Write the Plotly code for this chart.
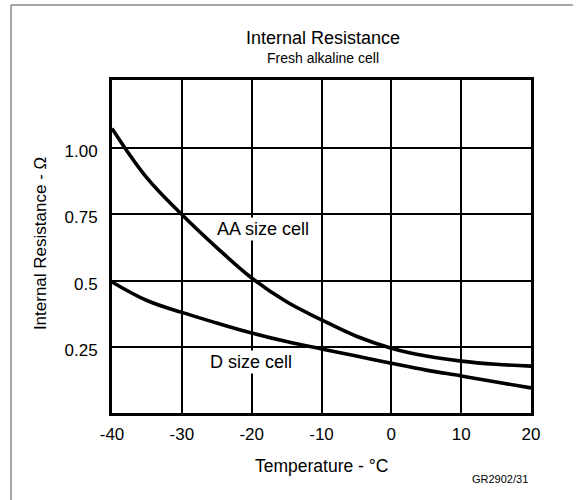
import plotly.graph_objects as go

temperature = [-40, -35, -30, -25, -20, -15, -10, -5, 0, 5, 10, 15, 20]
aa_resistance = [1.075, 0.888, 0.75, 0.625, 0.51, 0.42, 0.352, 0.29, 0.245, 0.215, 0.196, 0.184, 0.177]
d_resistance = [0.495, 0.425, 0.38, 0.34, 0.302, 0.27, 0.242, 0.215, 0.188, 0.162, 0.14, 0.117, 0.095]

x_ticks = [-40, -30, -20, -10, 0, 10, 20]
y_ticks = [0.25, 0.5, 0.75, 1.0]
y_tick_labels = ["0.25", "0.5", "0.75", "1.00"]

FONT = "Liberation Sans, Arial, Helvetica, sans-serif"

fig = go.Figure()
for name, vals in [("AA size cell", aa_resistance), ("D size cell", d_resistance)]:
    fig.add_trace(go.Scatter(
        x=temperature, y=vals, mode="lines", name=name,
        line=dict(color="black", width=3.6, shape="spline", smoothing=1.1),
        showlegend=False, hoverinfo="x+y",
    ))

fig.update_layout(
    width=577, height=500,
    margin=dict(l=112, r=46, t=80, b=87),
    paper_bgcolor="white", plot_bgcolor="white",
    font=dict(family=FONT, color="black", size=17),
    showlegend=False,
)

fig.update_xaxes(
    range=[-40, 20], tickvals=x_ticks, ticktext=[str(v) for v in x_ticks],
    showgrid=True, gridcolor="black", gridwidth=1.5,
    showline=True, linecolor="black", linewidth=3, mirror=True,
    ticks="outside", ticklen=4, tickcolor="rgba(0,0,0,0)",
    tickfont=dict(size=17), zeroline=False, fixedrange=True,
)
fig.update_yaxes(
    range=[0, 1.258], tickvals=y_ticks, ticktext=y_tick_labels,
    showgrid=True, gridcolor="black", gridwidth=1.5,
    showline=True, linecolor="black", linewidth=3, mirror=True,
    ticks="outside", ticklen=8, tickcolor="rgba(0,0,0,0)", ticklabelshift=3,
    tickfont=dict(size=17), zeroline=False, fixedrange=True,
)

annotations = [
    dict(text="Internal Resistance", x=0.504, y=1.1275, xref="paper", yref="paper",
         showarrow=False, font=dict(size=18), xanchor="center", yanchor="middle"),
    dict(text="Fresh alkaline cell", x=0.504, y=1.0675, xref="paper", yref="paper",
         showarrow=False, font=dict(size=14), xanchor="center", yanchor="middle"),
    dict(text="Temperature - °C", x=0.5, y=-0.158, xref="paper", yref="paper",
         showarrow=False, font=dict(size=17.5), xanchor="center", yanchor="middle"),
    dict(text="Internal Resistance - Ω", x=-0.172, y=0.51, xref="paper", yref="paper",
         showarrow=False, font=dict(size=17), textangle=-90, xanchor="center", yanchor="middle"),
    dict(text="GR2902/31", x=0.925, y=-0.199, xref="paper", yref="paper",
         showarrow=False, font=dict(size=11), xanchor="center", yanchor="middle"),
    dict(text="AA size cell", x=-18.4, y=0.694, xref="x", yref="y",
         showarrow=False, font=dict(size=18), bgcolor="white", borderpad=1,
         xanchor="center", yanchor="middle"),
    dict(text="D size cell", x=-20.1, y=0.193, xref="x", yref="y",
         showarrow=False, font=dict(size=18), bgcolor="white", borderpad=1,
         xanchor="center", yanchor="middle"),
]
fig.update_layout(annotations=annotations)

# outer thin frame of the figure (top and left edges)
fig.add_shape(type="line", xref="paper", yref="paper", x0=-0.241, x1=1.1, y0=1.225, y1=1.225,
              line=dict(color="#8a8a8a", width=1.5))
fig.add_shape(type="line", xref="paper", yref="paper", x0=-0.241, x1=-0.241, y0=1.225, y1=-0.27,
              line=dict(color="#8a8a8a", width=1.5))

fig.write_html(
    "out.html",
    config={"displayModeBar": False},
    post_script="document.body.style.margin='0';document.body.style.overflow='hidden';",
)
